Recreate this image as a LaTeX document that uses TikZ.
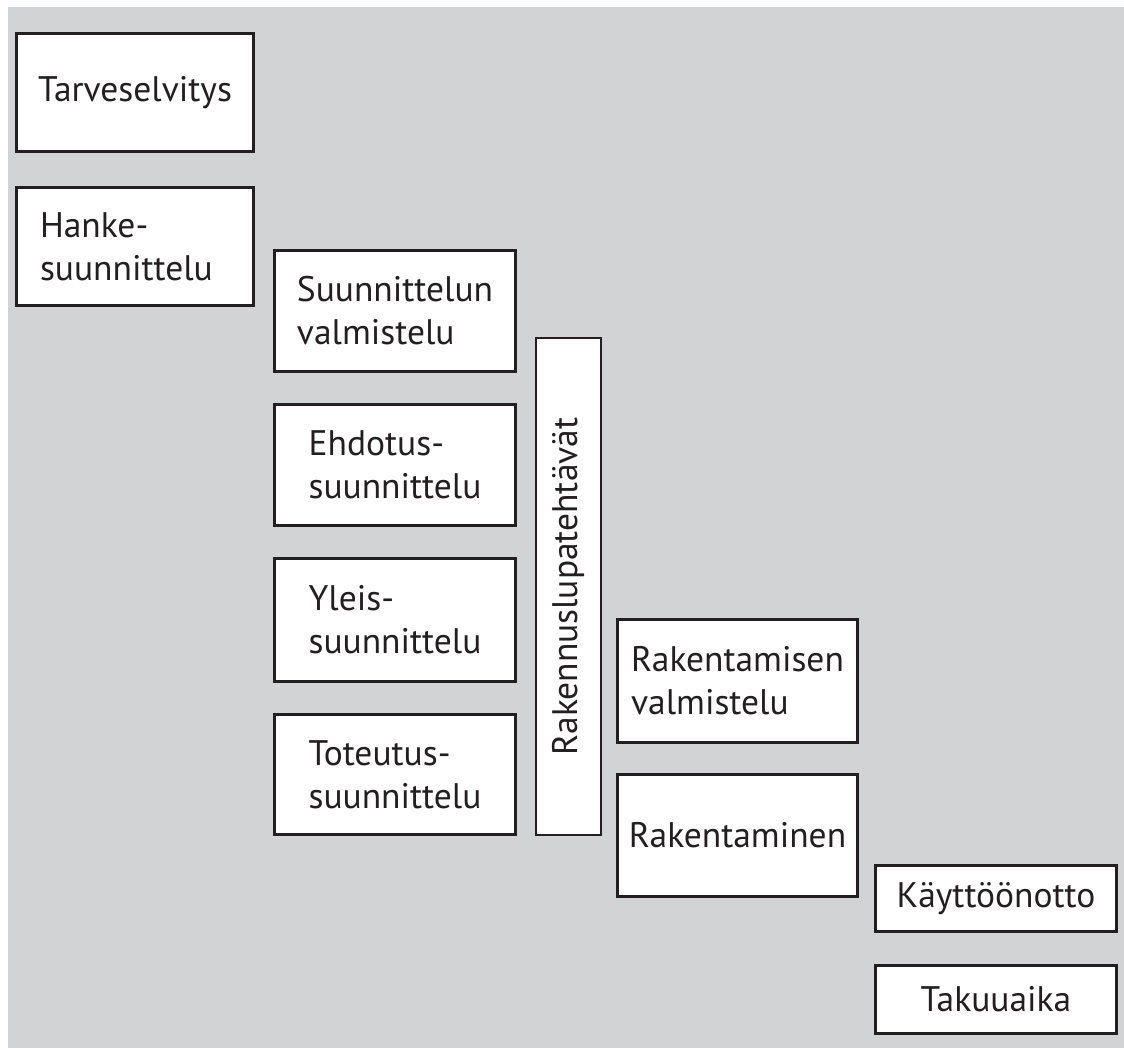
\documentclass[tikz,border=0pt]{standalone}
\usepackage{fontspec}
\setmainfont{PT Sans}
\definecolor{bg}{HTML}{D1D3D4}
\definecolor{ink}{HTML}{231F20}
\tikzset{
  boxfont/.style={font=\fontsize{35.5}{43}\selectfont},
  box/.style={draw=ink, line width=3pt, fill=white, align=left, inner sep=0pt, text=ink, boxfont},
  vbox/.style={draw=ink, line width=2pt, fill=white, inner sep=0pt, text=ink, boxfont}
}
\newcommand\mybox[7][box]{%
  \node[#1, minimum width={(#4-#2-3)*1pt}, minimum height={(#5-#3-3)*1pt}]
    (#6) at ({(#2+#4)/2},{(#3+#5)/2}) {#7};}
\begin{document}
\begin{tikzpicture}[x=1pt,y=-1pt]
\useasboundingbox (0,0) rectangle (1124,1048);
\fill[white] (0,0) rectangle (1124,1048);
\fill[bg] (8,7) rectangle (1124,1048);
\mybox{15}{32}{255}{153}{tarve}{Tarveselvitys}
\mybox[box,text width=190pt]{15}{186}{255}{307}{hanke}{Hanke-\\suunnittelu}
\mybox{273}{249}{517}{373}{suunval}{Suunnittelun\\valmistelu}
\mybox{273}{403}{517}{527}{ehdotus}{Ehdotus-\\suunnittelu}
\mybox{273}{557}{517}{683}{yleis}{Yleis-\\suunnittelu}
\mybox{273}{713}{517}{836}{toteutus}{Toteutus-\\suunnittelu}
\mybox[vbox]{534}{337}{602}{836}{lupa}{}
\node[text=ink, boxfont, rotate=90, inner sep=0pt] (lupatext) at (lupa.center) {Rakennuslupatehtävät};
\mybox{616}{618}{859}{744}{rakval}{Rakentamisen\\valmistelu}
\mybox{616}{773}{859}{898}{rak}{Rakentaminen}
\mybox{874}{864}{1118}{933}{kaytto}{Käyttöönotto}
\mybox{874}{964}{1118}{1035}{takuu}{Takuuaika}
\end{tikzpicture}
\end{document}
